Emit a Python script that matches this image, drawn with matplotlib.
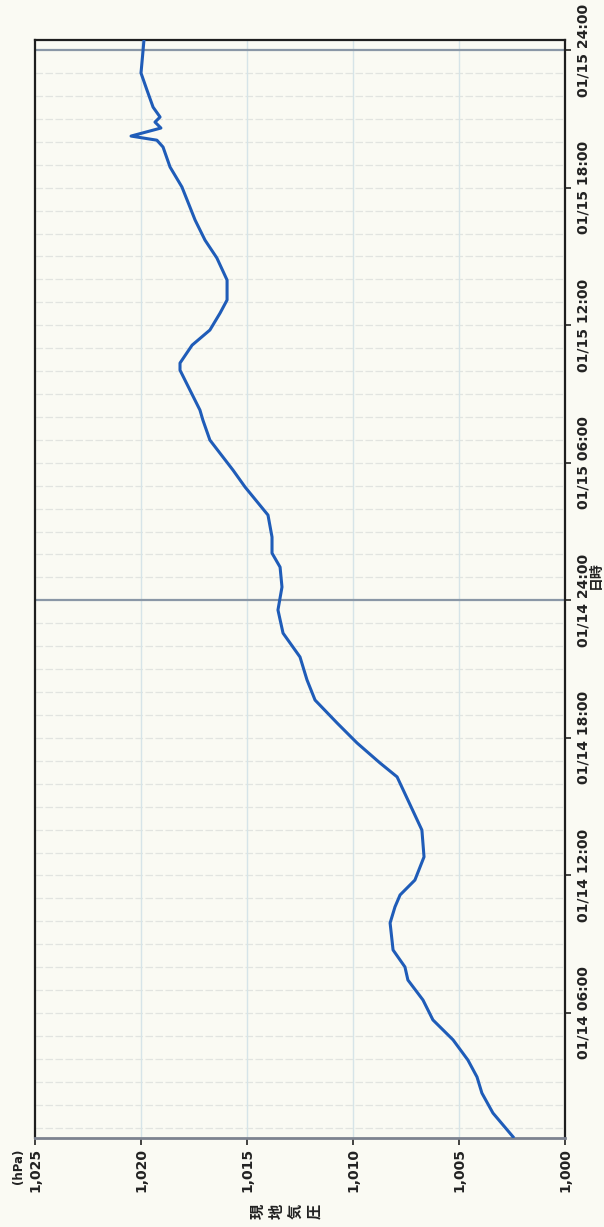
import matplotlib
matplotlib.use("Agg")
import matplotlib.pyplot as plt
import numpy as np

plt.rcParams['font.family'] = ['DejaVu Sans', 'Noto Sans CJK JP']

# hours since 01/14 00:00 and station pressure (hPa)
hours = [0.60, 1.64, 2.51, 3.21, 3.95, 4.83, 5.70, 6.57, 7.44, 8.01,
         8.75, 9.93, 10.63, 11.15, 11.80, 12.81, 13.98, 15.29, 16.30, 16.91,
         17.78, 18.65, 19.65, 20.53, 21.53, 22.57, 23.58, 24.58, 25.45, 26.06,
         26.76, 27.72, 28.94, 29.68, 30.99, 31.86, 32.30, 33.17, 34.04, 34.35,
         35.13, 35.79, 36.53, 37.10, 37.97, 38.93, 39.71, 40.59, 41.15, 42.03,
         42.90, 43.77, 44.07, 44.25, 44.60, 44.86, 45.08, 45.51, 46.26, 47.00,
         47.91, 48.44]
pressure = [1002.45, 1003.40, 1003.92, 1004.15, 1004.58, 1005.28, 1006.23, 1006.70, 1007.41, 1007.55,
            1008.11, 1008.25, 1008.02, 1007.78, 1007.08, 1006.65, 1006.75, 1007.41, 1007.92, 1008.73,
            1009.81, 1010.75, 1011.79, 1012.17, 1012.50, 1013.30, 1013.54, 1013.35, 1013.44, 1013.82,
            1013.82, 1014.01, 1015.09, 1015.66, 1016.75, 1017.08, 1017.22, 1017.69, 1018.16, 1018.16,
            1017.59, 1016.75, 1016.27, 1015.94, 1015.94, 1016.42, 1016.98, 1017.45, 1017.69, 1018.07,
            1018.63, 1018.96, 1019.25, 1020.47, 1019.06, 1019.34, 1019.10, 1019.43, 1019.72, 1020.00,
            1019.91, 1019.86]

p_ticks = [1025, 1020, 1015, 1010, 1005, 1000]
p_labels = ['1,025', '1,020', '1,015', '1,010', '1,005', '1,000']
t_ticks = [6, 12, 18, 24, 30, 36, 42, 48]
t_labels = ['01/14 06:00', '01/14 12:00', '01/14 18:00', '01/14 24:00',
            '01/15 06:00', '01/15 12:00', '01/15 18:00', '01/15 24:00']

paper = '#fafaf3'
W, H = 604, 1227
fig = plt.figure(figsize=(W / 100, H / 100), dpi=100, facecolor=paper)
ax = fig.add_axes([35 / W, 1 - 1138 / H, 530 / W, 1098 / H], facecolor=paper)

# light grid: hourly lines and pressure lines
for hr in range(1, 49):
    if hr % 24 == 0:
        ax.axhline(hr, color='#8a97a6', lw=1.6, zorder=1)
    else:
        ax.axhline(hr, color='#e2e4e0', lw=0.9, ls=(0, (6, 2)), zorder=0)
for p in p_ticks[1:-1]:
    ax.axvline(p, color='#d6e4e8', lw=1.0, zorder=0)

ax.plot(pressure, hours, color='#1f5cb8', lw=2.2, zorder=3)

ax.set_xlim(1025, 1000)
ax.set_ylim(0.55, 48.44)

ax.set_xticks(p_ticks)
ax.set_xticklabels(p_labels, rotation=90, fontsize=10, fontweight='bold', color='#222222')
ax.yaxis.tick_right()
ax.set_yticks(t_ticks)
ax.set_yticklabels(t_labels, rotation=90, va='center', fontsize=10, fontweight='bold', color='#222222')
ax.tick_params(axis='x', length=5, width=1.2, pad=2, color='#222222')
ax.tick_params(axis='y', length=4, width=1.2, pad=4, color='#222222')

for side in ['left', 'top', 'right']:
    ax.spines[side].set_color('#1e1e1e')
    ax.spines[side].set_linewidth(1.6)
ax.spines['bottom'].set_color('#7d8390')
ax.spines['bottom'].set_linewidth(2.0)

fig.text(19 / W, 1 - 1166 / H, '(hPa)', rotation=90, ha='center', va='center',
         fontsize=8.5, fontweight='bold', color='#222222')
for i, ch in enumerate('現地気圧'):
    fig.text((258 + i * 19) / W, 1 - 1211 / H, ch, rotation=90, ha='center', va='center',
             fontsize=11, fontweight='bold', color='#222222')
fig.text(596 / W, 1 - 575 / H, '日時', rotation=90, ha='center', va='center',
         fontsize=10, fontweight='bold', color='#222222')

fig.savefig('out.png', dpi=100, facecolor=paper)
